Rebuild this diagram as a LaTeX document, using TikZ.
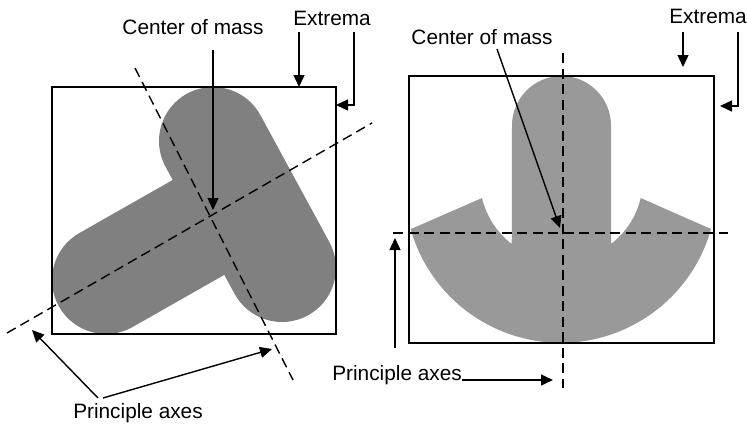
\documentclass[tikz,border=0pt]{standalone}
\usepackage{fontspec}
\setmainfont{Liberation Sans}
\usepackage{tikz}
\usetikzlibrary{arrows.meta, positioning}

\begin{document}
\begin{tikzpicture}[
    x=1pt, y=1pt, yscale=-1,
    txt/.style={font=\fontsize{20.8}{24}\selectfont, inner sep=0pt},
    arrow/.style={-{Triangle[length=12pt, width=11pt]}, line width=1.4pt},
    mainaxis/.style={dash pattern=on 10pt off 5.5pt, line width=1.4pt},
    extbox/.style={draw, line width=1.1pt},
    bar/.style={line width=108pt, line cap=round, draw=black!50}
]
    \useasboundingbox (0,0) rectangle (747,429);

    % rotated T shape
    \draw [bar] (213,141) -- (282,268);
    \draw [bar] (106,280) -- (245,201);
    \draw [extbox] (52,87) rectangle (336,334);

    % upright shape
    \fill [black!40] (411,229) -- (482,198) arc[start angle=166.6, end angle=127.6, radius=82]
        -- (512,125.5) arc[start angle=180, end angle=360, radius=49.5]
        -- (611,244) arc[start angle=52.4, end angle=13.4, radius=82]
        -- (711,229) arc[start angle=15.7, end angle=164.3, radius=156] -- cycle;
    \draw [extbox] (409,76) rectangle (714,343);

    \coordinate (axL1a) at (7,333);
    \coordinate (axL1b) at (372,123);
    \coordinate (axL2a) at (135,68);
    \coordinate (axL2b) at (293,380);
    \coordinate (axR1a) at (563,53);
    \coordinate (axR1b) at (563,388);
    \coordinate (axR2a) at (393,233);
    \coordinate (axR2b) at (728,233);
    \draw [mainaxis] (axL1a) -- (axL1b);
    \draw [mainaxis] (axL2a) -- (axL2b);
    \draw [mainaxis] (axR1a) -- (axR1b);
    \draw [mainaxis] (axR2a) -- (axR2b);

    \node [txt, anchor=base] (massL) at (193,34) {Center of mass};
    \node [txt, anchor=base] (extremaL) at (332,25) {Extrema};
    \node [txt, anchor=base] (axesL) at (138,418) {Principle axes};
    \node [txt, anchor=base] (massR) at (482,44) {Center of mass};
    \node [txt, anchor=base east] (extremaR) at (747,23) {Extrema};
    \node [txt, anchor=base east] (axesR) at (462,380) {Principle axes};

    \coordinate (massLtail) at (213,50);
    \coordinate (massLtip) at (213,210);
    \coordinate (extLtail1) at (299,32);
    \coordinate (extLtip1) at (299,87);
    \coordinate (extLtail2) at (354,32);
    \coordinate (extLtip2) at (336,105);
    \coordinate (axesLtail1) at (98,398);
    \coordinate (axesLtip1) at (32,330);
    \coordinate (axesLtail2) at (103,398);
    \coordinate (axesLtip2) at (272,349);
    \draw [arrow] (massLtail) -- (massLtip);
    \draw [arrow] (extLtail1) -- (extLtip1);
    \draw [arrow] (extLtail2) |- (extLtip2);
    \draw [arrow] (axesLtail1) -- (axesLtip1);
    \draw [arrow] (axesLtail2) -- (axesLtip2);

    \coordinate (massRtail) at (497,49);
    \coordinate (massRtip) at (560,228);
    \coordinate (extRtail1) at (683,32);
    \coordinate (extRtip1) at (683,67);
    \coordinate (extRtail2) at (738,32);
    \coordinate (extRtip2) at (720,106);
    \coordinate (axesRtip1) at (553,380);
    \coordinate (axesRtail2) at (395,348);
    \coordinate (axesRtip2) at (395,238);
    \draw [arrow] (massRtail) -- (massRtip);
    \draw [arrow] (extRtail1) -- (extRtip1);
    \draw [arrow] (extRtail2) |- (extRtip2);
    \draw [arrow] (axesR.base east) -- (axesRtip1);
    \draw [arrow] (axesRtail2) -- (axesRtip2);
\end{tikzpicture}
\end{document}
